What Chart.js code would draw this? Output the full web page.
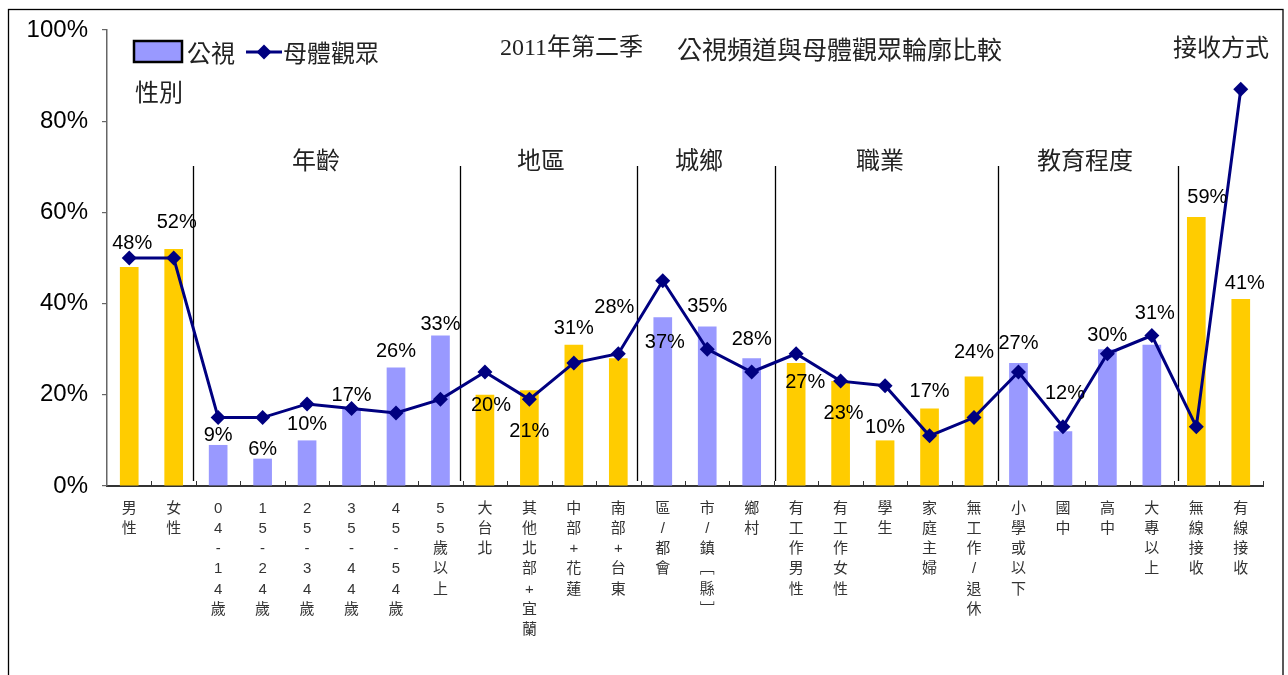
<!DOCTYPE html>
<html>
<head>
<meta charset="utf-8">
<script src="https://cdn.jsdelivr.net/npm/chart.js@4.4.1/dist/chart.umd.min.js"></script>
<style>
  body { margin: 0; background: #fff; }
  #wrap { width: 1288px; height: 675px; position: relative; }
</style>
</head>
<body>
<div id="wrap"><canvas id="chart"></canvas></div>
<script>
'use strict';

// categories (drawn one character per line under the axis)
let categories = ['男性', '女性', '04-14歲', '15-24歲', '25-34歲', '35-44歲', '45-54歲', '55歲以上',
  '大台北', '其他北部+宜蘭', '中部+花蓮', '南部+台東', '區/都會', '市/鎮﹇縣﹈', '鄉村',
  '有工作男性', '有工作女性', '學生', '家庭主婦', '無工作/退休',
  '小學或以下', '國中', '高中', '大專以上', '無線接收', '有線接收'];

// 公視 (bars) and 母體觀眾 (line), in %
let ptsViewers = [48, 52, 9, 6, 10, 17, 26, 33, 20, 21, 31, 28, 37, 35, 28, 27, 23, 10, 17, 24, 27, 12, 30, 31, 59, 41];
let population = [50, 50, 15, 15, 18, 17, 16, 19, 25, 19, 27, 29, 45, 30, 25, 29, 23, 22, 11, 15, 25, 13, 29, 33, 13, 87];

let yTicks = [0, 20, 40, 60, 80, 100];

// last category index of each group (separator goes after it)
let groupEnds = [1, 7, 11, 14, 19, 23];

// ---- styling ----
const GOLD = '#FFCC00';
const LAVENDER = '#9999FF';
const NAVY = '#000080';
let goldBars = [0, 1, 8, 9, 10, 11, 15, 16, 17, 18, 19, 24, 25];
let barColors = categories.map((c, i) => goldBars.includes(i) ? GOLD : LAVENDER);
// label distance above bar top (negative = inside the bar)
let labelDy = [24, 26, 9, 9, 16, 13, 16, 11, -11, -41, 16, 51, -25, 20, 19, -20, -32, 13, 17, 24, 19, 38, 14, 31, 19, 16];
let labelDx = [3, 3, 0, 0, 0, 0, 0, 0, 6, 0, 0, -4, 2, 0, 0, 9, 3, 0, 0, 0, 0, 2, 0, 3, 11, 4];
// separators were hand placed in the original, nudge from the boundary
let sepNudge = [-3, -2.5, -3.5, 1, 2, 4];

const CJK = '"Noto Sans CJK TC"';

let decorPlugin = {
  id: 'decor',
  beforeDatasetsDraw(chart) {
    let ctx = chart.ctx;
    let x = chart.scales.x;
    let area = chart.chartArea;
    ctx.save();
    // group separators
    ctx.strokeStyle = '#000';
    ctx.lineWidth = 1.3;
    groupEnds.forEach((i, k) => {
      let px = Math.round((x.getPixelForValue(i) + x.getPixelForValue(i + 1)) / 2 + sepNudge[k]) + 0.5;
      ctx.beginPath();
      ctx.moveTo(px, 166);
      ctx.lineTo(px, area.bottom - 5);
      ctx.stroke();
    });
    // small upward ticks between categories
    ctx.strokeStyle = '#333';
    ctx.lineWidth = 1;
    let step = x.width / categories.length;
    for (let i = 1; i <= categories.length; i++) {
      let px = Math.round(x.left + i * step) + 0.5;
      ctx.beginPath();
      ctx.moveTo(px, area.bottom);
      ctx.lineTo(px, area.bottom - 5);
      ctx.stroke();
    }
    ctx.restore();
  },
  afterDatasetsDraw(chart) {
    let ctx = chart.ctx;
    let meta = chart.getDatasetMeta(1);
    ctx.save();
    ctx.font = '20px "Liberation Sans", Arial, sans-serif';
    ctx.fillStyle = '#000';
    ctx.textAlign = 'center';
    ctx.textBaseline = 'middle';
    meta.data.forEach((bar, i) => {
      ctx.fillText(ptsViewers[i] + '%', bar.x + labelDx[i], bar.y - labelDy[i]);
    });
    ctx.restore();
  },
  afterDraw(chart) {
    let ctx = chart.ctx;
    ctx.save();
    ctx.textBaseline = 'middle';
    ctx.fillStyle = '#222';

    // title
    ctx.textAlign = 'left';
    ctx.font = '24px "Liberation Serif", ' + CJK;
    ctx.fillText('2011年第二季', 500, 49);
    ctx.font = '25px ' + CJK;
    ctx.fillText('公視頻道與母體觀眾輪廓比較', 677, 49);

    // group titles
    ctx.font = '24px ' + CJK;
    ctx.fillText('性別', 135, 92);
    ctx.textAlign = 'center';
    ctx.fillText('接收方式', 1221, 47);
    ctx.fillText('年齡', 316, 160);
    ctx.fillText('地區', 541, 160);
    ctx.fillText('城鄉', 699, 160);
    ctx.fillText('職業', 880, 160);
    ctx.fillText('教育程度', 1085, 160);

    // legend
    ctx.fillStyle = LAVENDER;
    ctx.fillRect(134, 41, 48, 21);
    ctx.strokeStyle = '#000';
    ctx.lineWidth = 2.5;
    ctx.strokeRect(134, 41, 48, 21);
    ctx.fillStyle = '#222';
    ctx.textAlign = 'left';
    ctx.fillText('公視', 187, 53);
    ctx.strokeStyle = NAVY;
    ctx.lineWidth = 3;
    ctx.beginPath();
    ctx.moveTo(246, 52);
    ctx.lineTo(282, 52);
    ctx.stroke();
    ctx.fillStyle = NAVY;
    ctx.beginPath();
    ctx.moveTo(264, 44.5);
    ctx.lineTo(271.5, 52);
    ctx.lineTo(264, 59.5);
    ctx.lineTo(256.5, 52);
    ctx.closePath();
    ctx.fill();
    ctx.fillStyle = '#222';
    ctx.fillText('母體觀眾', 283, 53);

    // outer frame
    ctx.strokeStyle = '#000';
    ctx.lineWidth = 1.3;
    ctx.strokeRect(8.5, 9.5, 1274.5, 700);
    ctx.restore();
  }
};

let data = {
  labels: categories.map(c => Array.from(c)),
  datasets: [{
    type: 'line',
    label: '母體觀眾',
    data: population,
    borderColor: NAVY,
    backgroundColor: NAVY,
    borderWidth: 3,
    pointStyle: 'rectRot',
    pointRadius: 7.5,
    pointBackgroundColor: NAVY,
    pointBorderWidth: 0,
    tension: 0,
    order: 0
  }, {
    type: 'bar',
    label: '公視',
    data: ptsViewers,
    backgroundColor: barColors,
    borderWidth: 0,
    categoryPercentage: 1,
    barPercentage: 0.42,
    order: 1
  }]
};

let config = {
  type: 'bar',
  data: data,
  plugins: [decorPlugin],
  options: {
    responsive: true,
    maintainAspectRatio: false,
    animation: false,
    devicePixelRatio: 1,
    layout: { padding: { top: 30, right: 25, left: 0, bottom: 0 } },
    plugins: {
      legend: { display: false },
      tooltip: { enabled: false }
    },
    scales: {
      x: {
        ticks: {
          autoSkip: false,
          maxRotation: 0,
          minRotation: 0,
          color: '#333',
          padding: 13,
          font: { family: '"Liberation Sans", ' + CJK, size: 15, lineHeight: 1.34 }
        },
        grid: { drawOnChartArea: false, drawTicks: false },
        border: { color: '#333', width: 2 },
        afterFit: s => { s.height = 189; }
      },
      y: {
        min: 0,
        max: 100,
        afterBuildTicks: s => { s.ticks = yTicks.map(v => ({ value: v })); },
        ticks: {
          callback: v => v + '%',
          color: '#000',
          padding: 14,
          font: { family: '"Liberation Sans", Arial, sans-serif', size: 24 }
        },
        grid: { drawOnChartArea: false, tickLength: 5, color: '#666', lineWidth: 1.2 },
        border: { color: '#666', width: 1.5 },
        afterFit: s => { s.width = 107; }
      }
    }
  }
};

let canvasElem = document.getElementById('chart');
new Chart(canvasElem, config);
</script>
</body>
</html>
